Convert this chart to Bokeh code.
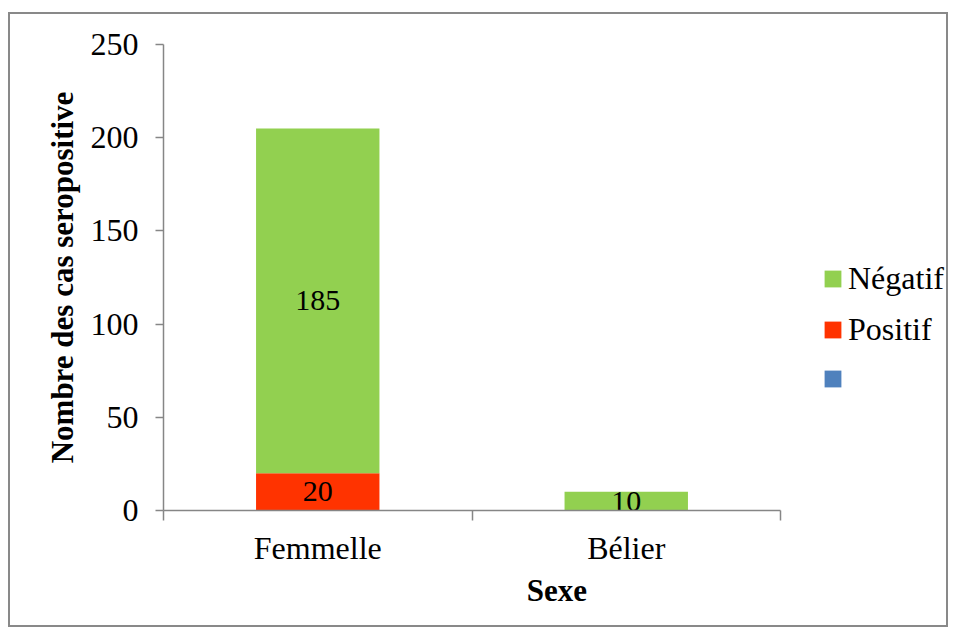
from bokeh.plotting import figure
from bokeh.models import (ColumnDataSource, Range1d, FixedTicker, Legend, LegendItem)
from bokeh.core.properties import value
from bokeh.embed import file_html
from bokeh.resources import INLINE

categories = ["Femmelle", "Bélier"]
positif = [20, 0]
negatif = [185, 10]
blank = [0, 0]
series_names = ["Négatif", "Positif", ""]
y_ticks = [0, 50, 100, 150, 200, 250]

FONT = "Liberation Serif"
GREEN = "#92D050"
RED = "#FF3300"
BLUE = "#4F81BD"
AXIS = "#868686"

n = len(categories)
xc = [i + 0.5 for i in range(n)]
src = ColumnDataSource(dict(x=xc, pos=positif, neg=negatif, blank=blank))

# frame extends right to host the legend; the x axis line is bounded to the categories
x_end = n * 787 / 617
p = figure(width=940, height=615, output_backend="svg", toolbar_location=None,
           x_range=Range1d(0, x_end), y_range=Range1d(0, max(y_ticks)),
           min_border_left=153, min_border_top=30, min_border_right=0,
           min_border_bottom=119)
p.styles = {"border": "2px solid #898989", "margin-left": "8px", "margin-top": "12px"}
p.outline_line_color = None
p.xgrid.visible = False
p.ygrid.visible = False
p.background_fill_color = "white"
p.border_fill_color = "white"

rs = p.vbar_stack(["pos", "neg", "blank"], x="x", width=0.4, source=src,
                  fill_color=[RED, GREEN, BLUE], line_color=None)

# data labels
lx, ly, lt = [], [], []
for i in range(n):
    if positif[i] > 0:
        lx.append(xc[i]); ly.append(positif[i] / 2); lt.append(str(positif[i]))
    if negatif[i] > 0:
        lx.append(xc[i]); ly.append(positif[i] + negatif[i] / 2); lt.append(str(negatif[i]))
p.text(x=lx, y=ly, text=lt, text_align="center", text_baseline="middle",
       text_font=value(FONT), text_font_size="30px", text_color="black")

# x axis
xa = p.xaxis[0]
xa.bounds = (0, n)
xa.ticker = FixedTicker(ticks=xc, minor_ticks=list(range(n + 1)))
xa.major_label_overrides = {xc[i]: categories[i] for i in range(n)}
xa.major_tick_out = 0
xa.major_tick_in = 0
xa.minor_tick_out = 10
xa.minor_tick_in = 0
xa.minor_tick_line_color = AXIS
xa.minor_tick_line_width = 1.5
xa.axis_line_color = AXIS
xa.axis_line_width = 1.5
xa.major_label_text_font = FONT
xa.major_label_text_font_size = "32px"
xa.major_label_text_color = "black"
xa.major_label_standoff = 9
xa.axis_label = "Sexe"
xa.axis_label_text_font = FONT
xa.axis_label_text_font_size = "31px"
xa.axis_label_text_font_style = "bold"
xa.axis_label_text_color = "black"
xa.axis_label_standoff = 4

ya = p.yaxis[0]
ya.ticker = FixedTicker(ticks=y_ticks)
ya.major_tick_out = 8
ya.major_tick_in = 0
ya.minor_tick_out = 0
ya.minor_tick_in = 0
ya.major_tick_line_color = AXIS
ya.major_tick_line_width = 1.5
ya.axis_line_color = AXIS
ya.axis_line_width = 1.5
ya.major_label_text_font = FONT
ya.major_label_text_font_size = "32px"
ya.major_label_text_color = "black"
ya.major_label_standoff = 17
ya.axis_label = "Nombre des cas seropositive"
ya.axis_label_text_font = FONT
ya.axis_label_text_font_size = "31px"
ya.axis_label_text_font_style = "bold"
ya.axis_label_text_color = "black"
ya.axis_label_standoff = 8

items = [LegendItem(label=value(series_names[0]), renderers=[rs[1]]),
         LegendItem(label=value(series_names[1]), renderers=[rs[0]]),
         LegendItem(label=value(series_names[2]), renderers=[rs[2]])]
leg = Legend(items=items, location=(659, 116), orientation="vertical",
             label_text_font=FONT, label_text_font_size="32px",
             label_text_color="black", glyph_width=21, glyph_height=21,
             label_standoff=5, label_height=32, spacing=14, padding=0, margin=0,
             border_line_color=None, background_fill_alpha=0)
p.add_layout(leg, "center")

open("out.html", "w").write(file_html(p, INLINE))
